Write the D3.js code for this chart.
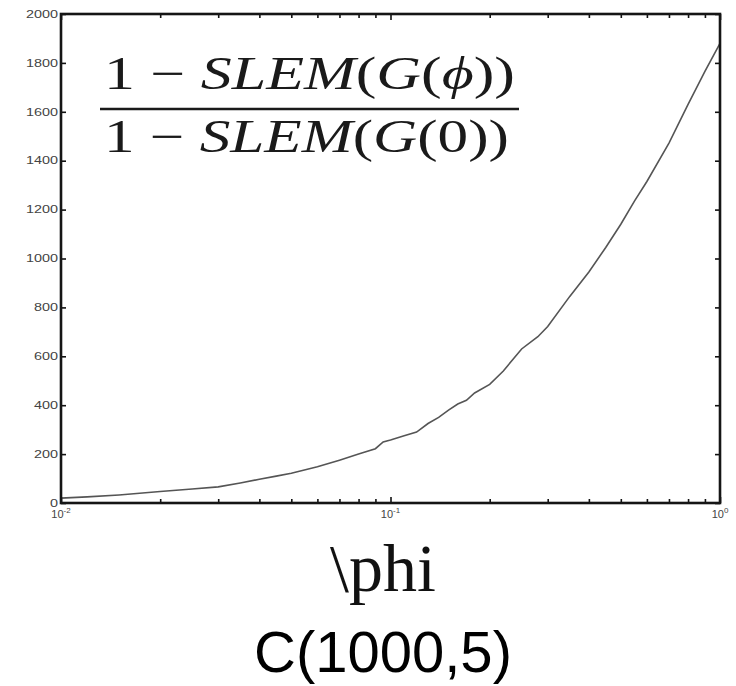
<!DOCTYPE html>
<html>
<head>
<meta charset="utf-8">
<script src="https://cdn.jsdelivr.net/npm/d3@7"></script>
<style>
  body { margin: 0; background: #fff; }
  svg { display: block; }
</style>
</head>
<body>
<div id="chart"></div>
<script>
const totalWidth = 736;
const totalHeight = 686;
const margin = { left: 61, right: 16, top: 14, bottom: 183 };
const plotWidth = totalWidth - margin.left - margin.right;
const plotHeight = totalHeight - margin.top - margin.bottom;

// values
const phiValues = [0.01, 0.012, 0.015, 0.02, 0.025, 0.03, 0.035, 0.04, 0.045, 0.05, 0.06, 0.07, 0.08, 0.09,
	0.095, 0.1, 0.11, 0.12, 0.13, 0.14, 0.15, 0.16, 0.17, 0.18, 0.2, 0.22, 0.25, 0.28, 0.3, 0.35, 0.4,
	0.45, 0.5, 0.55, 0.6, 0.7, 0.8, 0.9, 1.0];
const ratioValues = [20, 25, 33, 47, 57, 66, 82, 97, 110, 122, 148, 175, 200, 222,
	250, 258, 275, 290, 325, 350, 380, 405, 420, 450, 485, 540, 630, 680, 722, 845, 945,
	1045, 1140, 1235, 1315, 1472, 1630, 1765, 1880];
const yTicks = [0, 200, 400, 600, 800, 1000, 1200, 1400, 1600, 1800, 2000];
const xMajorTicks = [0.01, 0.1, 1];
const xTickExponents = ["-2", "-1", "0"];
const xLabel = "\\phi";
const caption = "C(1000,5)";

const x = d3.scaleLog().domain([0.01, 1]).range([0, plotWidth]);
const y = d3.scaleLinear().domain([0, 2000]).range([plotHeight, 0]);

const svg = d3.select("#chart")
	.append("svg")
	.attr("width", totalWidth)
	.attr("height", totalHeight);

const plot = svg.append("g").attr("transform", "translate(" + margin.left + "," + margin.top + ")");

const allXTicks = x.ticks();
const minorXTicks = allXTicks.filter((t) => !xMajorTicks.some((m) => Math.abs(m - t) < 1e-9));

function styleAxis(g) {
	g.select(".domain").remove();
	g.selectAll("line").attr("stroke", "#111").attr("stroke-width", 1.6);
}

// bottom and top: minor and major ticks pointing inward
plot.append("g")
	.attr("transform", "translate(0," + plotHeight + ")")
	.call(d3.axisBottom(x).tickValues(minorXTicks).tickSize(-4).tickFormat(""))
	.call(styleAxis);
plot.append("g")
	.attr("transform", "translate(0," + plotHeight + ")")
	.call(d3.axisBottom(x).tickValues(xMajorTicks).tickSize(-6).tickFormat(""))
	.call(styleAxis);
plot.append("g")
	.call(d3.axisTop(x).tickValues(minorXTicks).tickSize(-4).tickFormat(""))
	.call(styleAxis);
plot.append("g")
	.call(d3.axisTop(x).tickValues(xMajorTicks).tickSize(-6).tickFormat(""))
	.call(styleAxis);

// left and right
const leftAxis = plot.append("g")
	.call(d3.axisLeft(y).tickValues(yTicks).tickSize(-5).tickFormat(d3.format("d")))
	.call(styleAxis);
leftAxis.selectAll("text")
	.attr("x", -3)
	.attr("font-family", "Liberation Sans, Arial, sans-serif")
	.attr("font-size", 10)
	.attr("fill", "#444")
	.attr("textLength", (d) => String(d).length * 8)
	.attr("lengthAdjust", "spacingAndGlyphs");

plot.append("g")
	.attr("transform", "translate(" + plotWidth + ",0)")
	.call(d3.axisRight(y).tickValues(yTicks).tickSize(-5).tickFormat(""))
	.call(styleAxis);

// x tick labels 10^n
const xLabels = plot.append("g")
	.selectAll("text")
	.data(xMajorTicks)
	.join("text")
	.attr("x", (d) => x(d))
	.attr("y", plotHeight + 15)
	.attr("text-anchor", "middle")
	.attr("font-family", "Liberation Sans, Arial, sans-serif")
	.attr("font-size", 11)
	.attr("fill", "#444");
xLabels.append("tspan").text("10");
xLabels.append("tspan")
	.attr("dy", -5)
	.attr("font-size", 8)
	.text((d, i) => xTickExponents[i]);

// curve
const line = d3.line()
	.x((d, i) => x(phiValues[i]))
	.y((d) => y(d));

plot.append("path")
	.datum(ratioValues)
	.attr("fill", "none")
	.attr("stroke", "#555")
	.attr("stroke-width", 1.6)
	.attr("d", line);

// box
plot.append("rect")
	.attr("x", 0)
	.attr("y", 0)
	.attr("width", plotWidth)
	.attr("height", plotHeight)
	.attr("fill", "none")
	.attr("stroke", "#151515")
	.attr("stroke-width", 2.6);

// formula inside the plot
const mathFont = "Liberation Serif, 'Times New Roman', serif";
const formula = svg.append("g").attr("fill", "#1a1a1a").attr("font-family", mathFont).attr("font-size", 46);

function fractionRow(parts, baseline, width) {
	const t = formula.append("text")
		.attr("x", 104)
		.attr("y", baseline)
		.attr("textLength", width)
		.attr("lengthAdjust", "spacingAndGlyphs");
	for (const p of parts) {
		t.append("tspan").attr("font-style", p[1] ? "italic" : "normal").text(p[0]);
	}
}
fractionRow([["1 \u2212 ", false], ["SLEM", true], ["(", false], ["G", true], ["(", false], ["\u03D5", true], ["))", false]], 89, 411);
fractionRow([["1 \u2212 ", false], ["SLEM", true], ["(", false], ["G", true], ["(0))", false]], 152, 405);
formula.append("line")
	.attr("x1", 100)
	.attr("x2", 519)
	.attr("y1", 109)
	.attr("y2", 109)
	.attr("stroke", "#1a1a1a")
	.attr("stroke-width", 2.6);

// x label and caption
svg.append("text")
	.attr("x", 383)
	.attr("y", 591)
	.attr("text-anchor", "middle")
	.attr("font-family", mathFont)
	.attr("font-size", 68)
	.attr("fill", "#111")
	.text(xLabel);

svg.append("text")
	.attr("x", 383)
	.attr("y", 672)
	.attr("text-anchor", "middle")
	.attr("font-family", "Liberation Sans, Arial, sans-serif")
	.attr("font-size", 58)
	.attr("fill", "#000")
	.text(caption);
</script>
</body>
</html>
